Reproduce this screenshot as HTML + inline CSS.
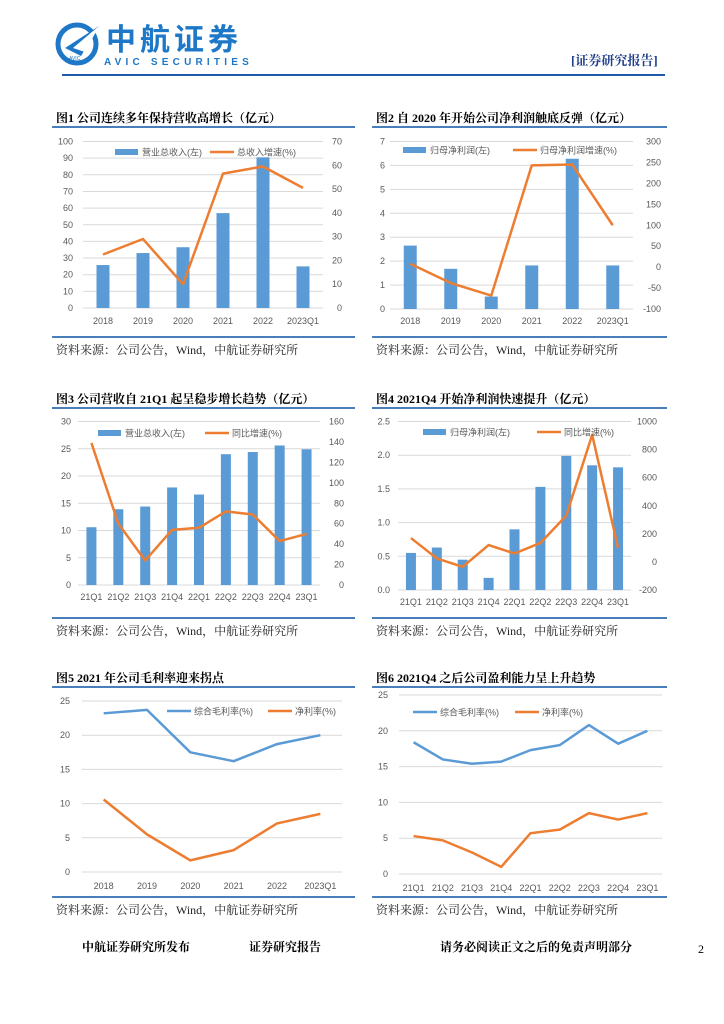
<!DOCTYPE html>
<html><head><meta charset="utf-8">
<style>
body{margin:0;background:#fff;}
#page{position:relative;width:724px;height:1024px;overflow:hidden;background:#fff;font-family:"Liberation Sans","Noto Sans CJK SC",sans-serif;}
.t{position:absolute;white-space:nowrap;}
.title{font-family:"Liberation Serif","Noto Serif CJK SC",serif;font-weight:bold;font-size:12px;color:#000;}
.src{font-family:"Liberation Serif","Noto Serif CJK SC",serif;font-size:12px;color:#222;}
.hl{position:absolute;height:2px;background:#4a7ebb;}
svg text{font-family:"Liberation Sans","Noto Sans CJK SC",sans-serif;}
</style></head><body>
<div id="page">
<svg class="t" style="left:55px;top:20px" width="48" height="48">
<circle cx="22" cy="24" r="19" fill="none" stroke="#1e78c8" stroke-width="5"/>
<polygon points="10,28 44,6 26,36" fill="#1e78c8"/><polygon points="18,28 44,6 30,32" fill="#fff"/>
<text x="14" y="40" font-size="5" fill="#1e78c8">AVIC</text></svg>
<div class="t" style="left:106px;top:19px;font-size:30px;font-weight:bold;color:#1e78c8;font-family:'Noto Sans CJK SC',sans-serif;letter-spacing:4px;line-height:36px">中航证券</div>
<div class="t" style="left:104px;top:57px;font-size:10px;font-weight:bold;color:#1e78c8;letter-spacing:4.2px">AVIC SECURITIES</div>
<div class="t" style="left:571px;top:50px;font-size:13px;font-weight:bold;color:#1e3f8a;font-family:'Liberation Serif','Noto Serif CJK SC',serif">[证券研究报告]</div>
<div class="hl" style="left:62px;top:74px;width:603px;background:#1e5aa8"></div>

<div class="t" style="left:82px;top:938px;font-size:12px;font-weight:bold;font-family:'Liberation Serif','Noto Serif CJK SC',serif">中航证券研究所发布</div>
<div class="t" style="left:249px;top:938px;font-size:12px;font-weight:bold;font-family:'Liberation Serif','Noto Serif CJK SC',serif">证券研究报告</div>
<div class="t" style="left:440px;top:938px;font-size:12px;font-weight:bold;font-family:'Liberation Serif','Noto Serif CJK SC',serif">请务必阅读正文之后的免责声明部分</div>
<div class="t" style="left:698px;top:942px;font-size:12px;font-family:'Liberation Serif',serif">2</div>
</div>
<script>
const c1Cats=["2018","2019","2020","2021","2022","2023Q1"];
const c1Bars=[25.8,33,36.5,57,90.5,25];
const c1Line=[22.5,29,10,56.5,59.5,50.5];
const c1LTicks=[0,10,20,30,40,50,60,70,80,90,100];
const c1RTicks=[0,10,20,30,40,50,60,70];

const c2Cats=["2018","2019","2020","2021","2022","2023Q1"];
const c2Bars=[2.65,1.68,0.52,1.82,6.28,1.82];
const c2Line=[8,-38,-68,243,245,100];
const c2LTicks=[0,1,2,3,4,5,6,7];
const c2RTicks=[-100,-50,0,50,100,150,200,250,300];

const c3Cats=["21Q1","21Q2","21Q3","21Q4","22Q1","22Q2","22Q3","22Q4","23Q1"];
const c3Bars=[10.6,13.9,14.4,17.9,16.6,24.0,24.4,25.6,24.9];
const c3Line=[139,60,24,54,56,72,69,43,50];
const c3LTicks=[0,5,10,15,20,25,30];
const c3RTicks=[0,20,40,60,80,100,120,140,160];

const c4Cats=["21Q1","21Q2","21Q3","21Q4","22Q1","22Q2","22Q3","22Q4","23Q1"];
const c4Bars=[0.55,0.63,0.45,0.18,0.90,1.53,1.99,1.85,1.82];
const c4Line=[170,25,-35,120,60,135,330,905,100];
const c4LTicks=["0.0","0.5","1.0","1.5","2.0","2.5"];
const c4RTicks=[-200,0,200,400,600,800,1000];

const c5Cats=["2018","2019","2020","2021","2022","2023Q1"];
const c5Gross=[23.2,23.7,17.5,16.2,18.7,20.0];
const c5Net=[10.6,5.5,1.7,3.2,7.1,8.5];
const c5Ticks=[0,5,10,15,20,25];

const c6Cats=["21Q1","21Q2","21Q3","21Q4","22Q1","22Q2","22Q3","22Q4","23Q1"];
const c6Gross=[18.4,16.0,15.4,15.7,17.3,18.0,20.8,18.2,20.0];
const c6Net=[5.3,4.7,3.0,1.0,5.7,6.2,8.5,7.6,8.5];
const c6Ticks=[0,5,10,15,20,25];

const NS="http://www.w3.org/2000/svg";
const page=document.getElementById('page');
const BLUE="#5B9BD5",ORANGE="#ED7D31",GRAY="#595959";
function mk(tag,attrs,parent){const e=document.createElementNS(NS,tag);for(const k in attrs)e.setAttribute(k,attrs[k]);parent.appendChild(e);return e;}
function txt(parent,x,y,s,anchor){const e=mk('text',{x:x,y:y,'font-size':9,fill:GRAY,'text-anchor':anchor},parent);e.textContent=s;return e;}
function div(cls,l,t,s,name){const d=document.createElement('div');d.className='t '+cls;d.style.left=l+'px';d.style.top=t+'px';d.textContent=s;


page.appendChild(d);}
function rule(l,t,w,name){const d=document.createElement('div');d.className='hl';d.style.left=l+'px';d.style.top=t+'px';d.style.width=w+'px';


page.appendChild(d);}

function chart(c){
  div('title',c.px,c.titleY,c.title,c.id+'-title');
  rule(c.px-4,c.titleY+17,c.pw,c.id+'-title-rule');
  rule(c.px-4,c.botY,c.pw,c.id+'-bottom-rule');
  div('src',c.px,c.botY+5,'资料来源：公司公告，Wind，中航证券研究所',c.id+'-source');
  const svg=mk('svg',{width:724,height:1024,style:'position:absolute;left:0;top:0'},page);
  
  
  const lmin=+c.lTicks[0],lmax=+c.lTicks[c.lTicks.length-1];
  const yL=v=>c.y0-(v-lmin)/(lmax-lmin)*(c.y0-c.yTop);
  const n=c.cats.length;
  const xC=i=>c.x0+(i+0.5)*(c.x1-c.x0)/n;
  c.lTicks.forEach(t=>{const y=yL(+t);
    const g=mk('line',{x1:c.x0,x2:c.x1,y1:y,y2:y,stroke:'#d9d9d9','stroke-width':1},svg);
    
    
    const l=txt(svg,c.lx,y+3,String(t),'end');
    
    });
  let yR=null;
  if(c.rTicks){const rmin=c.rTicks[0],rmax=c.rTicks[c.rTicks.length-1];
    yR=v=>c.y0-(v-rmin)/(rmax-rmin)*(c.y0-c.yTop);
    c.rTicks.forEach(t=>{const l=txt(svg,c.rx,yR(t)+3,String(t),'end');
      
      });}
  c.cats.forEach((s,i)=>{const l=txt(svg,xC(i),c.xlY,s,'middle');
    
    });
  if(c.bars){c.bars.forEach((v,i)=>{const b=mk('rect',{x:xC(i)-c.bw/2,y:yL(v),width:c.bw,height:yL(lmin)-yL(v),fill:BLUE},svg);
    
    });}
  c.lines.forEach(ln=>{const f=ln.right?yR:yL;
    const p=mk('polyline',{points:ln.data.map((v,i)=>xC(i)+','+f(v)).join(' '),fill:'none',stroke:ln.color,'stroke-width':2.5,'stroke-linejoin':'round'},svg);
    
    });
  c.legend.forEach(lg=>{
    if(lg.bar){const r=mk('rect',{x:lg.x,y:c.legY-3,width:23,height:6,fill:BLUE},svg);
      
      }
    else{const r=mk('line',{x1:lg.x,x2:lg.x+24,y1:c.legY,y2:c.legY,stroke:lg.color,'stroke-width':2.5},svg);
      
      }
    const t=txt(svg,lg.x+27,c.legY+3.5,lg.label,'start');
    
    });
}

chart({id:'fig1',title:'图1  公司连续多年保持营收高增长（亿元）',px:56,pw:303,titleY:109,botY:336,
 cats:c1Cats,bars:c1Bars,lTicks:c1LTicks,rTicks:c1RTicks,x0:83,x1:323,y0:308,yTop:141.5,lx:73,rx:342,xlY:324,bw:13,
 lines:[{data:c1Line,right:true,color:ORANGE,name:'revenue-growth-line'}],legY:152,
 legend:[{bar:true,x:115,label:'营业总收入(左)'},{color:ORANGE,x:210,label:'总收入增速(%)'}]});
chart({id:'fig2',title:'图2  自 2020 年开始公司净利润触底反弹（亿元）',px:376,pw:295,titleY:109,botY:336,
 cats:c2Cats,bars:c2Bars,lTicks:c2LTicks,rTicks:c2RTicks,x0:390,x1:633,y0:309,yTop:141.5,lx:385,rx:661,xlY:324,bw:13,
 lines:[{data:c2Line,right:true,color:ORANGE,name:'net-profit-growth-line'}],legY:150,
 legend:[{bar:true,x:403,label:'归母净利润(左)'},{color:ORANGE,x:513,label:'归母净利润增速(%)'}]});
chart({id:'fig3',title:'图3  公司营收自 21Q1 起呈稳步增长趋势（亿元）',px:56,pw:303,titleY:390,botY:617,
 cats:c3Cats,bars:c3Bars,lTicks:c3LTicks,rTicks:c3RTicks,x0:78,x1:320,y0:585,yTop:421.5,lx:71,rx:344,xlY:600,bw:10,
 lines:[{data:c3Line,right:true,color:ORANGE,name:'quarterly-revenue-growth-line'}],legY:433,
 legend:[{bar:true,x:98,label:'营业总收入(左)'},{color:ORANGE,x:205,label:'同比增速(%)'}]});
chart({id:'fig4',title:'图4  2021Q4 开始净利润快速提升（亿元）',px:376,pw:295,titleY:390,botY:617,
 cats:c4Cats,bars:c4Bars,lTicks:c4LTicks,rTicks:c4RTicks,x0:398,x1:631,y0:590,yTop:421.5,lx:390,rx:657,xlY:605,bw:10,
 lines:[{data:c4Line,right:true,color:ORANGE,name:'quarterly-profit-growth-line'}],legY:432,
 legend:[{bar:true,x:423,label:'归母净利润(左)'},{color:ORANGE,x:537,label:'同比增速(%)'}]});
chart({id:'fig5',title:'图5  2021 年公司毛利率迎来拐点',px:56,pw:303,titleY:669,botY:896,
 cats:c5Cats,lTicks:c5Ticks,x0:82,x1:342,y0:872,yTop:701,lx:70,xlY:889,
 lines:[{data:c5Gross,color:BLUE,name:'gross-margin-line'},{data:c5Net,color:ORANGE,name:'net-margin-line'}],legY:711,
 legend:[{color:BLUE,x:167,label:'综合毛利率(%)'},{color:ORANGE,x:268,label:'净利率(%)'}]});
chart({id:'fig6',title:'图6  2021Q4 之后公司盈利能力呈上升趋势',px:376,pw:295,titleY:669,botY:896,
 cats:c6Cats,lTicks:c6Ticks,x0:399,x1:662,y0:874,yTop:695,lx:388,xlY:891,
 lines:[{data:c6Gross,color:BLUE,name:'quarterly-gross-margin-line'},{data:c6Net,color:ORANGE,name:'quarterly-net-margin-line'}],legY:712,
 legend:[{color:BLUE,x:413,label:'综合毛利率(%)'},{color:ORANGE,x:515,label:'净利率(%)'}]});
</script>
</body></html>
